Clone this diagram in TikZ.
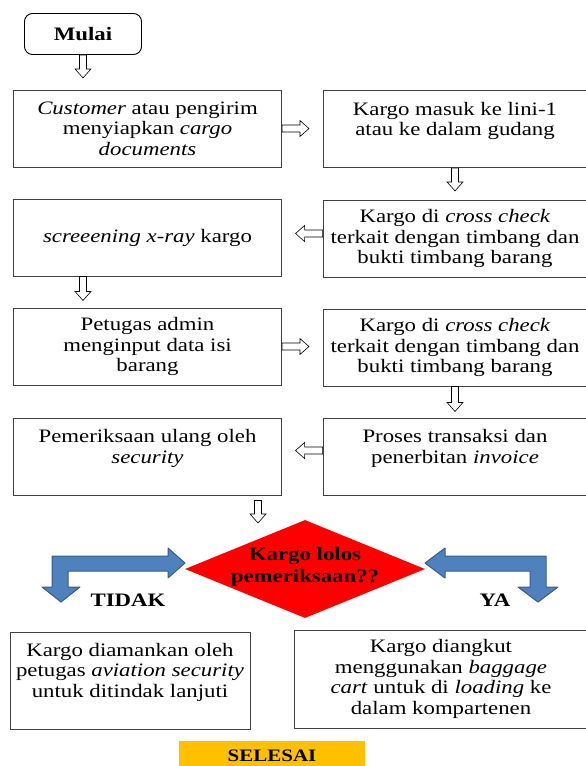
\documentclass[tikz,border=0pt]{standalone}
\usepackage{fontspec}
\setmainfont{Liberation Serif}[FakeStretch=1.2]
\usetikzlibrary{calc,shapes.geometric}
\definecolor{panah}{RGB}{79,129,189}
\definecolor{panahtepi}{RGB}{56,93,138}
\definecolor{kuning}{RGB}{255,192,0}
\tikzset{
  kotak/.style={draw=black!75,line width=0.9pt,minimum width=268pt,minimum height=77pt,align=center,inner sep=2pt},
  hollow/.style={draw,fill=white,line width=0.6pt,to path={
    let \p1=(\tikztostart),\p2=(\tikztotarget),\p3=($(\p2)!9pt!(\p1)$) in
    ($(\p1)!3.5pt!90:(\p2)$) -- ($(\p3)!3.5pt!90:(\p2)$) -- ($(\p3)!8pt!90:(\p2)$) -- (\p2)
    -- ($(\p3)!8pt!-90:(\p2)$) -- ($(\p3)!3.5pt!-90:(\p2)$) -- ($(\p1)!3.5pt!-90:(\p2)$) -- cycle}},
  biru/.style={fill=panah,draw=panahtepi,line width=1pt,line join=round},
}
\begin{document}
\begin{tikzpicture}[x=1pt,y=-1pt,font=\fontsize{19}{20.5}\selectfont]
  \useasboundingbox (0,0) rectangle (586,766);
  \node[draw,line width=0.9pt,rounded corners=8pt,minimum width=117pt,minimum height=41pt,font=\fontsize{19}{20.5}\selectfont\bfseries] (mulai) at (83,34) {Mulai};
  \node[kotak] (b1) at (147.5,128.5) {\textit{Customer} atau pengirim\\menyiapkan \textit{cargo}\\\textit{documents}};
  \node[kotak,minimum width=264pt] (b2) at (455,129) {Kargo masuk ke lini-1\\atau ke dalam gudang\\~};
  \node[kotak,minimum width=264pt] (b3) at (455,238.5) {Kargo di \textit{cross check}\\terkait dengan timbang dan\\bukti timbang barang};
  \node[kotak] (b4) at (147.5,237.5) {\textit{screeening x-ray} kargo};
  \node[kotak] (b5) at (147.5,346.5) {Petugas admin\\menginput data isi\\barang};
  \node[kotak,minimum width=264pt] (b6) at (455,347.5) {Kargo di \textit{cross check}\\terkait dengan timbang dan\\bukti timbang barang};
  \node[kotak,minimum width=264pt] (b7) at (455,456.5) {Proses transaksi dan\\penerbitan \textit{invoice}\\~};
  \node[kotak] (b8) at (147.5,456.5) {Pemeriksaan ulang oleh\\\textit{security}\\~};
  % keputusan
  \node[diamond,fill=red,minimum width=240pt,minimum height=98pt,inner sep=0pt] (cek) at (305,569) {};
  \node[align=center,font=\fontsize{19}{22}\selectfont\bfseries] (tanya) at (305,567) {Kargo lolos\\pemeriksaan??};
  \coordinate (dtop) at (258,523);
  \draw[biru] (52,556) -- (168,556) -- (168,548) -- (185,563) -- (168,578) -- (168,571) -- (68,571)
    -- (68,587) -- (80,587) -- (61,602) -- (42,587) -- (52,587) -- cycle;
  \draw[biru] (425,563) -- (445,548) -- (445,556) -- (546,556) -- (546,587) -- (558,587) -- (538,602)
    -- (518,587) -- (530,587) -- (530,571) -- (445,571) -- (445,578) -- cycle;
  \node[font=\fontsize{19}{20.5}\selectfont\bfseries] (tidak) at (128,600) {TIDAK};
  \node[font=\fontsize{19}{20.5}\selectfont\bfseries] (ya) at (495,600) {YA};
  \node[kotak,minimum width=240pt,minimum height=97pt] (b9) at (130,680.5) {Kargo diamankan oleh\\petugas \textit{aviation security}\\untuk ditindak lanjuti\\~};
  \node[kotak,minimum width=294pt,minimum height=98pt] (b10) at (441,679) {Kargo diangkut\\menggunakan \textit{baggage}\\\textit{cart} untuk di \textit{loading} ke\\dalam kompartenen};
  \node[fill=kuning,minimum width=186pt,minimum height=30pt,font=\fontsize{17.5}{20}\selectfont\bfseries] (selesai) at (272,756) {SELESAI};
  % panah
  \draw[hollow] (mulai.south) to ([yshift=-23pt]mulai.south);
  \draw[hollow] (b1.east) to ([xshift=27pt]b1.east);
  \draw[hollow] (b2.south) to ([yshift=-23pt]b2.south);
  \draw[hollow] ([yshift=5pt]b3.west) to ([xshift=-27pt,yshift=5pt]b3.west);
  \draw[hollow] (b4.south -| mulai.south) to ([yshift=-24pt]b4.south -| mulai.south);
  \draw[hollow] (b5.east) to ([xshift=27pt]b5.east);
  \draw[hollow] (b6.south) to ([yshift=-25pt]b6.south);
  \draw[hollow] ([yshift=6pt]b7.west) to ([xshift=-27pt,yshift=6pt]b7.west);
  \draw[hollow] ([yshift=-5pt]b8.south -| dtop) to (dtop);
\end{tikzpicture}
\end{document}
